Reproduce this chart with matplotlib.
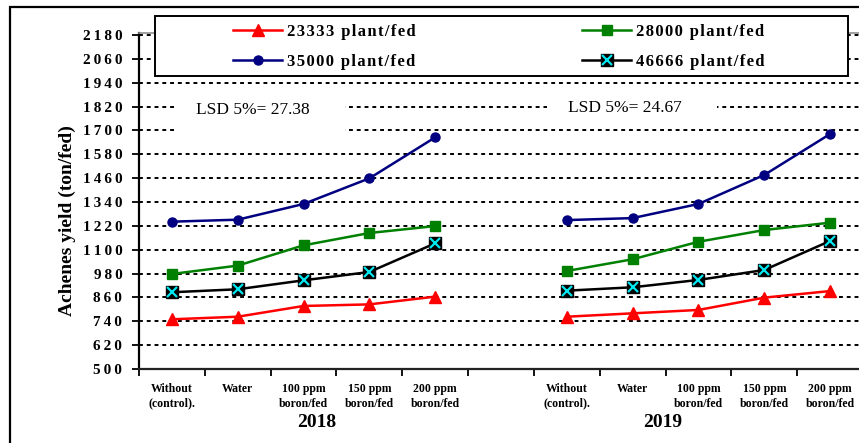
import matplotlib.pyplot as plt
from matplotlib.patches import Rectangle
from matplotlib.legend_handler import HandlerTuple

plt.rcParams['font.family'] = ['Liberation Serif', 'DejaVu Serif']

# treatments, two seasons side by side with an empty slot between them
treatments = ['Without\n(control).', 'Water', '100 ppm\nboron/fed',
              '150 ppm\nboron/fed', '200 ppm\nboron/fed']
years = ['2018', '2019']

# achenes yield per plant density, season 2018 then 2019
y23333 = [750, 763, 817, 825, 864,   763, 780, 797, 859, 892]
y28000 = [978, 1020, 1122, 1184, 1219,   993, 1052, 1140, 1199, 1236]
y35000 = [1241, 1251, 1330, 1459, 1665,   1249, 1259, 1330, 1476, 1682]
y46666 = [886, 901, 946, 988, 1132,   894, 911, 948, 998, 1144]

lsd = ['27.38', '24.67']

yticks = list(range(500, 2181, 120))


def sp(s, ch='\u2009'):
    return ch.join(s)


x = list(range(5)) + list(range(6, 11))

fig = plt.figure(figsize=(8.59, 4.43), dpi=100)
ax = fig.add_axes([139 / 859, 74 / 443, 724 / 859, 336 / 443])

for sl in (slice(0, 5), slice(5, 10)):
    ax.plot(x[sl], y23333[sl], color='#ff0000', lw=1.8, marker='^', ms=8, zorder=3)
    ax.plot(x[sl], y28000[sl], color='#008000', lw=1.8, marker='s', ms=6.5, zorder=3)
    ax.plot(x[sl], y35000[sl], color='#000080', lw=1.8, marker='o', ms=6.5, zorder=3)
    ax.plot(x[sl], y46666[sl], color='black', lw=1.8, marker='s', ms=8,
            mfc='black', mec='black', zorder=3)
    ax.plot(x[sl], y46666[sl], ls='none', marker='x', ms=7, mec='#00e5ee',
            mew=1.6, zorder=4)

ax.set_xlim(-0.5, 10.5)
ax.set_ylim(500, 2190)
ax.set_yticks(yticks)
ax.set_yticklabels([sp(str(v)) for v in yticks], fontsize=11, fontweight='bold')
ax.tick_params(axis='y', length=5, width=1.3, pad=7)

ax.set_xticks([i - 0.5 for i in range(12)])
ax.set_xticklabels([])
ax.tick_params(axis='x', which='major', length=5, width=1.3)
ax.set_xticks(x, minor=True)
ax.set_xticklabels(treatments * 2, minor=True, fontsize=8.5, fontweight='bold',
                   linespacing=1.3)
ax.tick_params(axis='x', which='minor', length=0, pad=10)

ax.grid(axis='y', color='black', linestyle=(0, (2, 2)), linewidth=1.4)
ax.set_axisbelow(True)
ax.spines['right'].set_visible(False)
ax.spines['top'].set_color('#909090')
ax.spines['top'].set_linewidth(1.2)
ax.spines['left'].set_linewidth(1.6)
ax.spines['bottom'].set_linewidth(1.6)
ax.spines['bottom'].set_color('#222222')

trans = ax.get_xaxis_transform()
ax.text(2.2, -0.158, years[0], transform=trans, ha='center', va='center',
        fontsize=14, fontweight='bold')
ax.text(7.46, -0.158, years[1], transform=trans, ha='center', va='center',
        fontsize=14, fontweight='bold')

# white text boxes behind the LSD notes
ax.add_patch(Rectangle((0.0497, 0.699), 0.235, 0.116, transform=ax.transAxes,
                       fc='white', ec='none', zorder=1))
ax.add_patch(Rectangle((0.5635, 0.735), 0.235, 0.080, transform=ax.transAxes,
                       fc='white', ec='none', zorder=1))
ax.text(0.1568, 0.771, 'LSD 5%= ' + lsd[0], transform=ax.transAxes,
        ha='center', va='center', fontsize=12.5, zorder=3)
ax.text(0.6713, 0.777, 'LSD 5%= ' + lsd[1], transform=ax.transAxes,
        ha='center', va='center', fontsize=12.5, zorder=3)

fig.text(67 / 859, (443 - 221) / 443, 'Achenes yield (ton/fed)', rotation=90,
         ha='center', va='center', fontsize=14, fontweight='bold')

# legend box drawn by hand, one legend per column inside it
fig.patches.append(Rectangle((155 / 859, (443 - 76) / 443), 693 / 859, 60 / 443,
                             transform=fig.transFigure, fc='white', ec='black',
                             lw=1.4, zorder=5))

h1, = ax.plot([], [], color='#ff0000', lw=1.8, marker='^', ms=8)
h2, = ax.plot([], [], color='#008000', lw=1.8, marker='s', ms=6.5)
h3, = ax.plot([], [], color='#000080', lw=1.8, marker='o', ms=6.5)
h4a, = ax.plot([], [], color='black', lw=1.8, marker='s', ms=8, mfc='black')
h4b, = ax.plot([], [], ls='none', marker='x', ms=7, mec='#00e5ee', mew=1.6)

leg_kw = dict(loc='center left', frameon=False, borderpad=0, borderaxespad=0,
              handler_map={tuple: HandlerTuple(ndivide=1, pad=0)},
              prop=dict(weight='bold', size=12), handlelength=2.95,
              handletextpad=0.3, labelspacing=0.85)
legA = fig.legend([h1, h3], [sp('23333 plant/fed', '\u200a'),
                             sp('35000 plant/fed', '\u200a')],
                  bbox_to_anchor=(233 / 859, (443 - 47) / 443), **leg_kw)
legB = fig.legend([h2, (h4a, h4b)], [sp('28000 plant/fed', '\u200a'),
                                     sp('46666 plant/fed', '\u200a')],
                  bbox_to_anchor=(582 / 859, (443 - 47) / 443), **leg_kw)
legA.set_zorder(6)
legB.set_zorder(6)

# outer frame around the whole chart
fig.patches.append(Rectangle((10 / 859, -0.05), 1.2, (443 - 7) / 443 + 0.05,
                             transform=fig.transFigure, fill=False, ec='black',
                             lw=1.6, zorder=7))

fig.savefig('out.png', dpi=100)
